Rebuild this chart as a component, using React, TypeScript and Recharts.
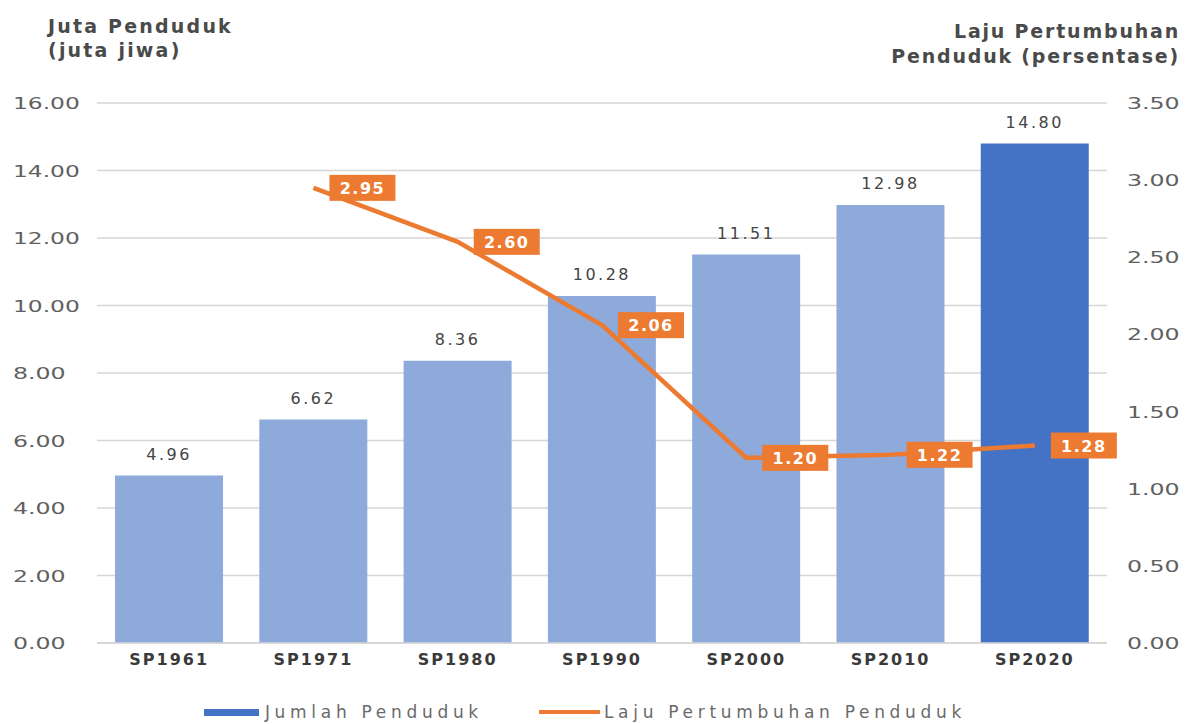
import React from "react";
import {
  ComposedChart,
  Bar,
  Line,
  XAxis,
  YAxis,
  CartesianGrid,
  Cell,
  LabelList,
  Legend,
} from "recharts";

const categories = ["SP1961", "SP1971", "SP1980", "SP1990", "SP2000", "SP2010", "SP2020"];
const populationMillions = [4.96, 6.62, 8.36, 10.28, 11.51, 12.98, 14.8];
const growthRatePct: (number | null)[] = [null, 2.95, 2.6, 2.06, 1.2, 1.22, 1.28];
const leftTicks = [0, 2, 4, 6, 8, 10, 12, 14, 16];
const rightTicks = [0, 0.5, 1, 1.5, 2, 2.5, 3, 3.5];
const leftTitle = ["Juta Penduduk", "(juta jiwa)"];
const rightTitle = ["Laju Pertumbuhan", "Penduduk (persentase)"];
const highlightedCategory = "SP2020";

const data = categories.map((c, i) => ({
  category: c,
  population: populationMillions[i],
  growth: growthRatePct[i],
}));

const FONT = "'DejaVu Sans', sans-serif";
const BAR_LIGHT = "#8eaadb";
const BAR_DARK = "#4472c4";
const ORANGE = "#ec7a30";
const TEXT = "#606060";

const wideLen = (s: string) => {
  let w = 0;
  for (const ch of s) w += ch === "." ? 10 : 14.2;
  return w;
};

const LeftTick = (props: any) => {
  const { y, payload } = props;
  const s = Number(payload.value).toFixed(2);
  return (
    <text x={13} y={y} dy={6} fill={TEXT} fontSize={16} fontFamily={FONT} textAnchor="start"
      textLength={wideLen(s)} lengthAdjust="spacingAndGlyphs">
      {s}
    </text>
  );
};

const RightTick = (props: any) => {
  const { y, payload } = props;
  const s = Number(payload.value).toFixed(2);
  return (
    <text x={1127} y={y} dy={6} fill={TEXT} fontSize={16} fontFamily={FONT} textAnchor="start"
      textLength={wideLen(s)} lengthAdjust="spacingAndGlyphs">
      {s}
    </text>
  );
};

const XTick = (props: any) => {
  const { x, y, payload } = props;
  return (
    <text x={x} y={y} dy={14} fill="#3a3a3a" fontSize={16} fontWeight="bold" fontFamily={FONT} letterSpacing={2} textAnchor="middle">
      {payload.value}
    </text>
  );
};

const GrowthLabel = (props: any) => {
  const { x, y, value } = props;
  if (value == null) return null;
  const bx = x + 16;
  return (
    <g>
      <rect x={bx} y={y - 13} width={66} height={26} fill={ORANGE} />
      <text x={bx + 33} y={y} dy={6} fill="#ffffff" fontSize={16} fontWeight="bold" fontFamily={FONT} letterSpacing={1.5} textAnchor="middle">
        {Number(value).toFixed(2)}
      </text>
    </g>
  );
};

const LegendContent = () => (
  <div
    style={{
      height: 24,
      display: "flex",
      alignItems: "center",
      justifyContent: "center",
      fontFamily: FONT,
      fontSize: 17,
      letterSpacing: 4.7,
      color: "#6a6a6a",
      paddingRight: 24,
    }}
  >
    <span style={{ display: "inline-block", width: 55, height: 7, background: BAR_DARK, marginRight: 6 }} />
    <span style={{ marginRight: 56 }}>Jumlah Penduduk</span>
    <span style={{ display: "inline-block", width: 61, height: 4, background: ORANGE, marginRight: 4 }} />
    <span>Laju Pertumbuhan Penduduk</span>
  </div>
);

export default function App() {
  return (
    <div style={{ position: "absolute", left: 0, top: 0, width: 1194, height: 724, background: "#fff" }}>
      <ComposedChart
        width={1194}
        height={724}
        data={data}
        margin={{ top: 103, right: 0, bottom: 0, left: 0 }}
        barCategoryGap="12.5%"
      >
        <CartesianGrid vertical={false} stroke="#d6d6d6" strokeWidth={1.5} yAxisId="left" />
        <XAxis
          dataKey="category"
          axisLine={{ stroke: "#d6d6d6", strokeWidth: 1.5 }}
          tickLine={false}
          tick={<XTick />}
          height={57}
          interval={0}
        />
        <YAxis
          yAxisId="left"
          orientation="left"
          domain={[0, 16]}
          ticks={leftTicks}
          width={97}
          axisLine={false}
          tickLine={false}
          tick={<LeftTick />}
        />
        <YAxis
          yAxisId="right"
          orientation="right"
          domain={[0, 3.5]}
          ticks={rightTicks}
          width={87}
          axisLine={false}
          tickLine={false}
          tick={<RightTick />}
        />
        <Legend verticalAlign="bottom" content={<LegendContent />} />
        <Bar yAxisId="left" dataKey="population" isAnimationActive={false}>
          {data.map((d) => (
            <Cell key={d.category} fill={d.category === highlightedCategory ? BAR_DARK : BAR_LIGHT} />
          ))}
          <LabelList
            dataKey="population"
            position="top"
            offset={16}
            fill="#444"
            fontSize={16}
            fontFamily={FONT}
            letterSpacing={2.5}
            formatter={(v: any) => Number(v).toFixed(2)}
          />
        </Bar>
        <Line
          yAxisId="right"
          dataKey="growth"
          stroke={ORANGE}
          strokeWidth={4.5}
          dot={false}
          activeDot={false}
          isAnimationActive={false}
        >
          <LabelList dataKey="growth" content={<GrowthLabel />} />
        </Line>
        <g>
          <text fill="#4a4a4a" fontFamily={FONT} fontWeight="bold" fontSize={19} letterSpacing={2.2} textAnchor="start">
            <tspan x={48} y={33}>{leftTitle[0]}</tspan>
            <tspan x={48} y={57}>{leftTitle[1]}</tspan>
          </text>
          <text fill="#4a4a4a" fontFamily={FONT} fontWeight="bold" fontSize={19} letterSpacing={1.8} textAnchor="end">
            <tspan x={1180} y={38}>{rightTitle[0]}</tspan>
            <tspan x={1180} y={63}>{rightTitle[1]}</tspan>
          </text>
        </g>
      </ComposedChart>
    </div>
  );
}
